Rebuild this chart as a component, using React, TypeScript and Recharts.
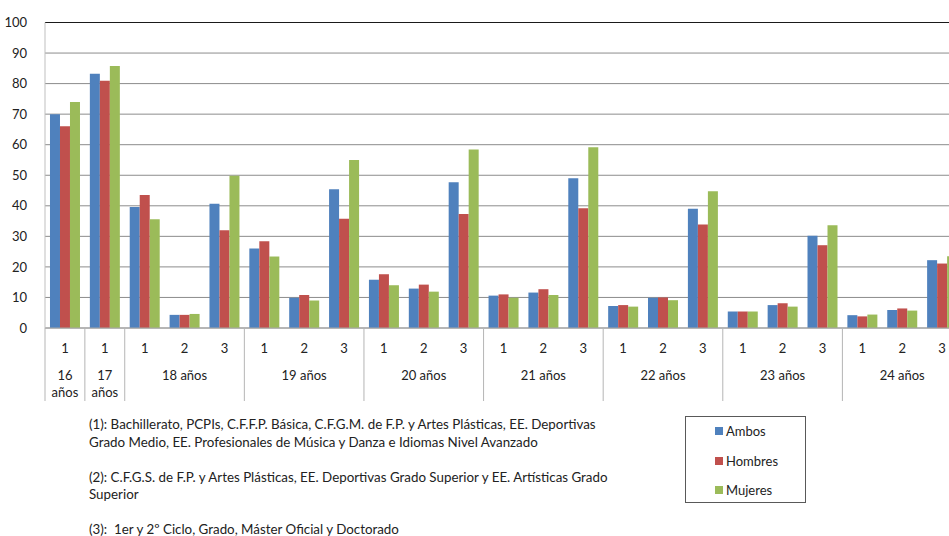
import React from "react";
import { BarChart, Bar, XAxis, YAxis, CartesianGrid, ReferenceLine } from "recharts";

// age groups and the study levels shown under each one
const ages = ["16 años", "17 años", "18 años", "19 años", "20 años", "21 años", "22 años", "23 años", "24 años"];
const levelsByAge = [
  ["1"],
  ["1"],
  ["1", "2", "3"],
  ["1", "2", "3"],
  ["1", "2", "3"],
  ["1", "2", "3"],
  ["1", "2", "3"],
  ["1", "2", "3"],
  ["1", "2", "3"],
];

// % values, one per (age, level)
const ambos = [70, 83.2, 39.6, 4.3, 40.7, 26.0, 9.9, 45.4, 15.8, 12.9, 47.7, 10.6, 11.6, 49.0, 7.2, 9.9, 39.0, 5.4, 7.5, 30.2, 4.2, 5.9, 22.2];
const hombres = [66, 80.9, 43.5, 4.3, 32.0, 28.4, 10.8, 35.8, 17.6, 14.2, 37.3, 11.0, 12.7, 39.2, 7.5, 10.0, 33.9, 5.4, 8.1, 27.1, 3.8, 6.4, 21.1];
const mujeres = [74, 85.8, 35.6, 4.6, 49.8, 23.4, 9.0, 55.0, 14.0, 11.9, 58.4, 9.9, 10.8, 59.2, 7.0, 9.1, 44.8, 5.4, 7.0, 33.6, 4.4, 5.7, 23.5];

const yTicks = [0, 10, 20, 30, 40, 50, 60, 70, 80, 90, 100];

const series = [
  { key: "Ambos", values: ambos, color: "#4F81BD" },
  { key: "Hombres", values: hombres, color: "#C0504D" },
  { key: "Mujeres", values: mujeres, color: "#9BBB59" },
];

const footnotes = [
  "(1): Bachillerato, PCPIs, C.F.F.P. Básica, C.F.G.M. de F.P. y Artes Plásticas, EE. Deportivas",
  "Grado Medio, EE. Profesionales de Música y Danza e Idiomas Nivel Avanzado",
  "",
  "(2): C.F.G.S. de F.P. y Artes Plásticas, EE. Deportivas Grado Superior y EE. Artísticas Grado",
  "Superior",
  "",
  "(3):  1er y 2º Ciclo, Grado, Máster Oficial y Doctorado",
];

const FONT = "Lato, 'Liberation Sans', sans-serif";

const categories = ages.flatMap((age, a) =>
  levelsByAge[a].map((level, pos) => ({
    key: `${age}-${level}`,
    age,
    level,
    pos,
    size: levelsByAge[a].length,
  }))
);

const data = categories.map((c, i) => {
  const row: Record<string, string | number> = { name: c.key };
  series.forEach((s) => {
    row[s.key] = s.values[i];
  });
  return row;
});

const CHART_W = 962;
const CHART_H = 403;
const BAND = (CHART_W - 45) / categories.length;

function CategoryTick(props: any) {
  const { x, y, payload } = props;
  const cat = categories[payload.index];
  if (!cat) return null;
  const half = payload.offset || BAND / 2;
  const sepColor = "#b5b5b5";
  const words = cat.age.split(" ");
  return (
    <g>
      <text x={x} y={y + 20} textAnchor="middle" dominantBaseline="central" fontSize={13} fill="#222" fontFamily={FONT}>
        {cat.level}
      </text>
      {cat.size === 1 && (
        <>
          <text x={x} y={y + 47} textAnchor="middle" dominantBaseline="central" fontSize={13} fill="#222" fontFamily={FONT}>
            {words[0]}
          </text>
          <text x={x} y={y + 64} textAnchor="middle" dominantBaseline="central" fontSize={13} fill="#222" fontFamily={FONT}>
            {words[1]}
          </text>
        </>
      )}
      {cat.size > 1 && cat.pos === 1 && (
        <text x={x} y={y + 47} textAnchor="middle" dominantBaseline="central" fontSize={13} fill="#222" fontFamily={FONT}>
          {cat.age}
        </text>
      )}
      {cat.pos === 0 && <line x1={x - half} x2={x - half} y1={y} y2={y + 73} stroke={sepColor} />}
      {payload.index === categories.length - 1 && (
        <line x1={x + half} x2={x + half} y1={y} y2={y + 73} stroke={sepColor} />
      )}
    </g>
  );
}

export default function App() {
  return (
    <div
      style={{
        position: "fixed",
        left: 0,
        top: 0,
        width: 949,
        height: 536,
        overflow: "hidden",
        background: "#fff",
        fontFamily: FONT,
      }}
    >
      <BarChart
        width={CHART_W}
        height={CHART_H}
        data={data}
        margin={{ top: 22.5, right: 0, bottom: 0, left: 0 }}
        barCategoryGap="12.5%"
        barGap={0}
      >
        <CartesianGrid vertical={false} stroke="#8c8c8c" />
        <XAxis
          dataKey="name"
          interval={0}
          height={75}
          tick={<CategoryTick />}
          tickLine={false}
          tickSize={0}
          tickMargin={0}
          axisLine={{ stroke: "#a6a6a6" }}
        />
        <YAxis
          width={45}
          domain={[0, 100]}
          ticks={yTicks}
          interval={0}
          tickLine={false}
          axisLine={{ stroke: "#bfbfbf" }}
          tick={{ fill: "#222", fontSize: 13, fontFamily: FONT }}
          tickMargin={12}
        />
        <ReferenceLine y={100} stroke="#1a1a1a" />
        {series.map((s) => (
          <Bar key={s.key} dataKey={s.key} fill={s.color} isAnimationActive={false} />
        ))}
      </BarChart>

      <div style={{ position: "absolute", left: 89, top: 416, fontSize: 13.35, lineHeight: "17.5px", color: "#222" }}>
        {footnotes.map((line, i) => (
          <div key={i} style={{ height: 17.5, whiteSpace: "pre" }}>
            {line}
          </div>
        ))}
      </div>

      <div
        style={{
          position: "absolute",
          left: 685,
          top: 416,
          width: 121,
          height: 87,
          border: "1px solid #595959",
          boxSizing: "border-box",
        }}
      >
        {series.map((s, i) => (
          <div
            key={s.key}
            style={{
              position: "absolute",
              left: 29,
              top: 5 + i * 29.5,
              height: 18,
              display: "flex",
              alignItems: "center",
              fontSize: 13,
              color: "#222",
            }}
          >
            <span style={{ width: 8, height: 8, background: s.color, marginRight: 3, display: "inline-block" }} />
            {s.key}
          </div>
        ))}
      </div>
    </div>
  );
}
